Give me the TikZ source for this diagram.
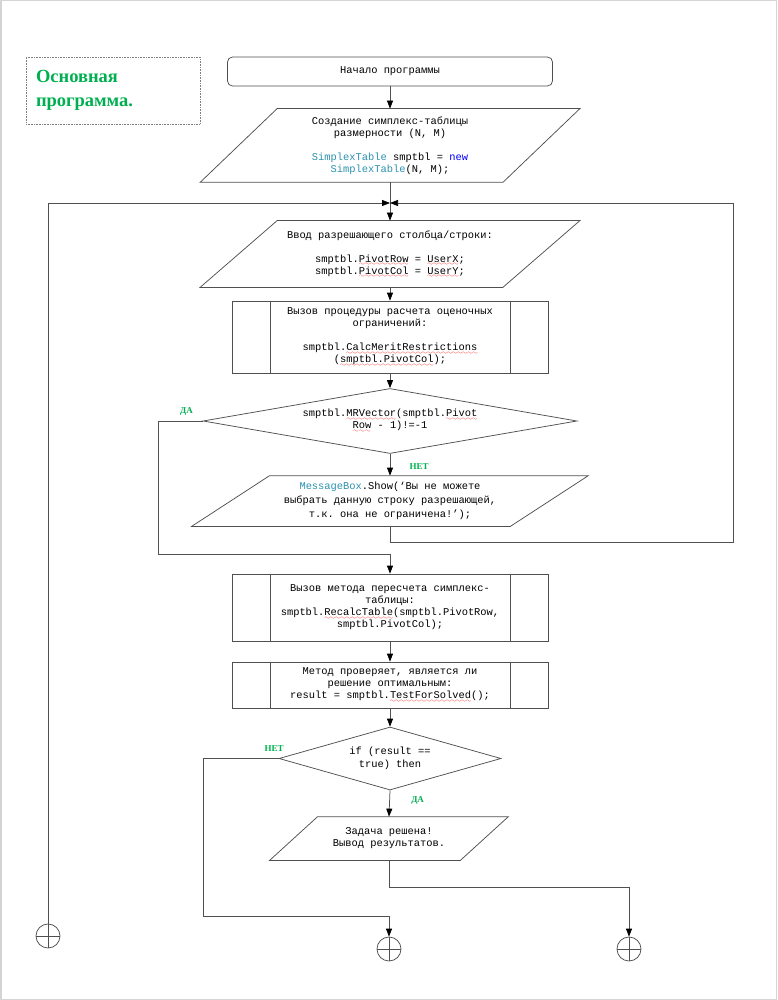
\documentclass[tikz,border=0pt]{standalone}
\usepackage{fontspec}
\setmonofont{Liberation Mono}
\newfontfamily\titlefont{Liberation Serif}
\usepackage{tikz}
\usetikzlibrary{positioning,arrows.meta,shapes.geometric}

\definecolor{titlegreen}{RGB}{0,176,80}
\definecolor{typecol}{RGB}{43,145,175}
\definecolor{kwcol}{RGB}{0,0,255}
\definecolor{linegray}{RGB}{80,80,80}
\definecolor{framegray}{RGB}{212,212,212}

\font\wavefont=lasy6
\newsavebox{\spellbox}
\newcommand{\spell}[1]{\sbox{\spellbox}{#1}\rlap{\lower3.6pt\hbox to\wd\spellbox{\color{red}\wavefont\xleaders\hbox{\char58}\hfil}}\usebox{\spellbox}}
\newcommand{\iodraw}[2]{\draw[linegray] ([xshift=#2]#1.north west) -- ([xshift=#2]#1.north east)
  -- ([xshift=-#2]#1.south east) -- ([xshift=-#2]#1.south west) -- cycle;}
\newcommand{\subdraw}[1]{\draw[linegray] ([xshift=39pt]#1.north west) -- ([xshift=39pt]#1.south west)
  ([xshift=-38pt]#1.north east) -- ([xshift=-38pt]#1.south east);}

\begin{document}
\begin{tikzpicture}[x=1pt,y=-1pt,>={Triangle[length=8pt,width=6pt,color=black]},
                    line width=0.75pt,
                    font=\ttfamily\fontsize{10.4}{12}\selectfont]
  \tikzstyle{startbox}=[draw=linegray,rounded corners=5pt,minimum width=325pt,minimum height=29pt,inner sep=0pt]
  \tikzstyle{iobox}=[inner sep=0pt,align=center]
  \tikzstyle{subbox}=[draw=linegray,minimum width=316pt,inner sep=0pt,align=center]
  \tikzstyle{decide}=[draw=linegray,diamond,inner sep=0pt,align=center]
  \tikzstyle{joint}=[draw=linegray,circle,minimum size=24pt,inner sep=0pt]
  \tikzstyle{lbl}=[text=titlegreen,font=\titlefont\bfseries\fontsize{9}{10}\selectfont]
  \tikzstyle{conn}=[draw=linegray,->]

  \useasboundingbox (0,0) rectangle (777,1000);
  \draw[framegray,line width=1.5pt] (0.75,0.75) rectangle (776.25,999.25);

  \node[draw=gray,densely dotted,line width=0.6pt,minimum width=174pt,minimum height=67pt,
        inner sep=0pt,text width=154pt,align=left,text=titlegreen,
        font=\titlefont\bfseries\fontsize{18.5}{24}\selectfont] (title) at (113,90.5)
        {Основная\\программа.};

  \node[startbox] (start) at (390,71.5) {Начало программы};
  \node[iobox,minimum width=302pt,minimum height=73pt] (make) at (390,145.5)
        {Создание симплекс-таблицы\\размерности (N, M)\\[12pt]
         {\color{typecol}SimplexTable} smptbl = {\color{kwcol}new}\\
         {\color{typecol}SimplexTable}(N, M);};
  \node[iobox,minimum width=302pt,minimum height=66pt] (input) at (390,254)
        {Ввод разрешающего столбца/строки:\\[12pt]
         smptbl.\spell{PivotRow} = \spell{UserX};\\
         smptbl.\spell{PivotCol} = \spell{UserY};};
  \node[subbox,minimum height=72pt] (merit) at (390,337)
        {Вызов процедуры расчета оценочных\\ограничений:\\[12pt]
         smptbl.\spell{CalcMeritRestrictions}\\(\spell{smptbl.PivotCol});};
  \node[decide,minimum width=374pt,minimum height=65pt,aspect=5.75] (check) at (390,421)
        {smptbl.\spell{MRVector}(smptbl.\spell{Pivot}\\\spell{Row} - 1)!=-1};
  \node[iobox,minimum width=318pt,minimum height=50pt,
        font=\ttfamily\fontsize{10.4}{13.7}\selectfont] (msg) at (390,501)
        {{\color{typecol}MessageBox}.Show(‘Вы не можете\\
         выбрать данную строку разрешающей,\\т.к. она не ограничена!’);};
  \node[subbox,minimum height=67pt] (recalc) at (390,607.5)
        {Вызов метода пересчета симплекс-\\таблицы:\\
         smptbl.\spell{RecalcTable}(smptbl.PivotRow,\\smptbl.PivotCol);};
  \node[subbox,minimum height=46pt] (test) at (390,685)
        {Метод проверяет, является ли\\решение оптимальным:\\
         result = smptbl.\spell{TestForSolved}();};
  \node[decide,minimum width=222pt,minimum height=63pt,aspect=3.5,
        font=\ttfamily\fontsize{10.4}{13.3}\selectfont] (solved) at (390,758.5)
        {if (result ==\\true) then};
  \node[iobox,minimum width=190pt,minimum height=43pt] (result) at (389,838.5)
        {Задача решена!\\Вывод результатов.};

  \iodraw{make}{38.5pt}
  \iodraw{input}{38.5pt}
  \iodraw{msg}{39pt}
  \iodraw{result}{24pt}
  \subdraw{merit}
  \subdraw{recalc}
  \subdraw{test}

  % page connectors
  \node[joint] (back)  at (48,936) {};
  \node[joint] (again) at (389,949) {};
  \node[joint] (done)  at (629,949) {};
  \foreach \c in {back,again,done}
    \draw[linegray] (\c.north) -- (\c.south) (\c.west) -- (\c.east);

  \coordinate (top)   at (390,203);
  \coordinate (loopr) at (733,542);
  \coordinate (yesl)  at (158,554);
  \coordinate (nol)   at (203,916);
  \coordinate (outr)  at (629,887);

  \path (start.south)  edge[conn] (make.north)
        (make.south)   edge[conn] (input.north)
        (input.south)  edge[conn] (merit.north)
        (merit.south)  edge[conn] (check.north)
        (recalc.south) edge[conn] (test.north)
        (test.south)   edge[conn] (solved.north);

  \draw[conn] (back.north) |- (top);
  \draw[conn] (msg.south) |- (loopr) |- (top);
  \draw[conn] (check.west) -| node[lbl,pos=0.18,yshift=10pt] (yes1) {ДА} (yesl) -| (recalc.north);
  \draw[conn] (check.south) -- node[lbl,pos=0.6,xshift=29pt] (no1) {НЕТ} (msg.north);
  \draw[conn] (solved.west) -| node[lbl,pos=0.03,yshift=10pt] (no2) {НЕТ} (nol) -| (again.north);
  \draw[conn] (solved.south) -- node[lbl,pos=0.4,xshift=28pt] (yes2) {ДА} (result.north);
  \draw[conn] (result.south) |- (outr) -- (done.north);
\end{tikzpicture}
\end{document}
